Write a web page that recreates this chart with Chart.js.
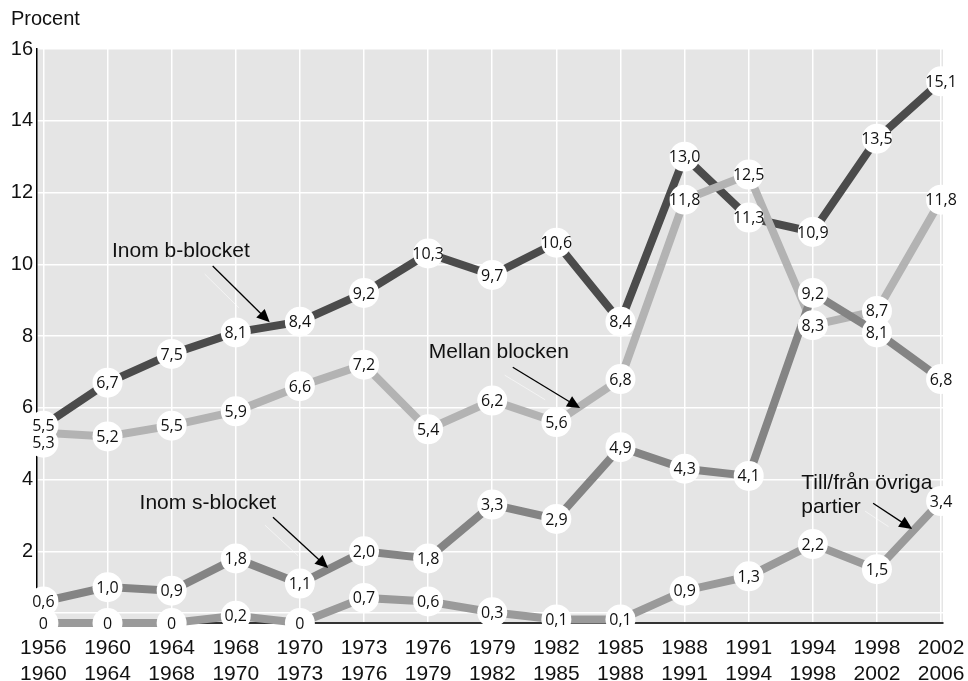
<!DOCTYPE html>
<html>
<head>
<meta charset="utf-8">
<script src="https://cdn.jsdelivr.net/npm/chart.js@4"></script>
<style>
  html, body { margin: 0; padding: 0; background: #fff; }
  #wrap { position: relative; width: 968px; height: 681px; }
  #title { position: absolute; left: 11px; top: 7px; font: 20px "Liberation Sans", Arial, sans-serif; color: #111; }
</style>
</head>
<body>
<div id="wrap">
  <div id="title">Procent</div>
  <canvas id="chart" width="968" height="681"></canvas>
</div>
<script>
// valperioder
const periodFrom = ['1956', '1960', '1964', '1968', '1970', '1973', '1976', '1979', '1982', '1985', '1988', '1991', '1994', '1998', '2002'];
const periodTo   = ['1960', '1964', '1968', '1970', '1973', '1976', '1979', '1982', '1985', '1988', '1991', '1994', '1998', '2002', '2006'];

// andel väljare som bytt parti (procent)
const inomBBlocket   = [5.5, 6.7, 7.5, 8.1, 8.4, 9.2, 10.3, 9.7, 10.6, 8.4, 13.0, 11.3, 10.9, 13.5, 15.1];
const mellanBlocken  = [5.3, 5.2, 5.5, 5.9, 6.6, 7.2, 5.4, 6.2, 5.6, 6.8, 11.8, 12.5, 8.3, 8.7, 11.8];
const inomSBlocket   = [0.6, 1.0, 0.9, 1.8, 1.1, 2.0, 1.8, 3.3, 2.9, 4.9, 4.3, 4.1, 9.2, 8.1, 6.8];
const ovrigaPartier  = [0, 0, 0, 0.2, 0, 0.7, 0.6, 0.3, 0.1, 0.1, 0.9, 1.3, 2.2, 1.5, 3.4];

const yTicks = [2, 4, 6, 8, 10, 12, 14, 16];

// texter med pilar (x = periodindex, y = procent)
const notes = [
    { text: ['Inom b-blocket'], x: 1.07, y: 10.35, from: [2.64, 9.95], to: [3.53, 8.38] },
    { text: ['Mellan blocken'], x: 6.01, y: 7.55, from: [7.32, 7.13], to: [8.37, 5.99] },
    { text: ['Inom s-blocket'], x: 1.50, y: 3.34, from: [3.58, 2.95], to: [4.44, 1.53] },
    { text: ['Till/från övriga', 'partier'], x: 11.82, y: 3.90, from: [12.94, 3.34], to: [13.55, 2.62] }
];

function toPoints(arr) {
    return arr.map(function(v, i) { return { x: i, y: v }; });
}

function fmt(v) {
    return v === 0 ? '0' : v.toFixed(1).replace('.', ',');
}

const bgPlugin = {
    id: 'bg',
    beforeDraw: function(chart) {
        const a = chart.chartArea;
        const ctx = chart.ctx;
        ctx.save();
        ctx.fillStyle = '#e5e5e5';
        ctx.fillRect(a.left, a.top, a.right - a.left, a.bottom - a.top);
        ctx.restore();
    }
};

const labelPlugin = {
    id: 'labels',
    afterDatasetsDraw: function(chart) {
        const ctx = chart.ctx;
        const xs = chart.scales.x;
        const ys = chart.scales.y;
        // annotations with arrows
        ctx.save();
        notes.forEach(function(n) {
            ctx.font = '21px "Liberation Sans", Arial, sans-serif';
            ctx.fillStyle = '#111';
            ctx.textAlign = 'left';
            ctx.textBaseline = 'middle';
            n.text.forEach(function(t, k) {
                ctx.fillText(t, xs.getPixelForValue(n.x), ys.getPixelForValue(n.y) + k * 24);
            });
            const x1 = xs.getPixelForValue(n.from[0]), y1 = ys.getPixelForValue(n.from[1]);
            const x2 = xs.getPixelForValue(n.to[0]), y2 = ys.getPixelForValue(n.to[1]);
            const ang = Math.atan2(y2 - y1, x2 - x1);
            // faint white shadow
            ctx.strokeStyle = 'rgba(255,255,255,0.55)';
            ctx.lineWidth = 1;
            ctx.beginPath();
            ctx.moveTo(x1 - 8, y1 + 8);
            ctx.lineTo(x1 - 8 + (x2 - x1) * 0.6, y1 + 8 + (y2 - y1) * 0.6);
            ctx.stroke();
            ctx.strokeStyle = '#000';
            ctx.lineWidth = 1.3;
            ctx.beginPath();
            ctx.moveTo(x1, y1);
            ctx.lineTo(x2 - Math.cos(ang) * 8, y2 - Math.sin(ang) * 8);
            ctx.stroke();
            ctx.fillStyle = '#000';
            ctx.beginPath();
            ctx.moveTo(x2, y2);
            ctx.lineTo(x2 - Math.cos(ang) * 13 + Math.sin(ang) * 6, y2 - Math.sin(ang) * 13 - Math.cos(ang) * 6);
            ctx.lineTo(x2 - Math.cos(ang) * 13 - Math.sin(ang) * 6, y2 - Math.sin(ang) * 13 + Math.cos(ang) * 6);
            ctx.closePath();
            ctx.fill();
        });
        // white circles with values
        const cols = {};
        chart.data.datasets.forEach(function(ds, di) {
            const meta = chart.getDatasetMeta(di);
            meta.data.forEach(function(pt, i) {
                (cols[i] = cols[i] || []).push({ x: pt.x, y: pt.y, t: fmt(ds.data[i].y) });
            });
        });
        ctx.font = '16px "Open Sans", "Noto Sans", sans-serif';
        ctx.textAlign = 'center';
        ctx.textBaseline = 'middle';
        Object.keys(cols).forEach(function(k) {
            const c = cols[k].sort(function(a, b) { return a.y - b.y; });
            for (let j = 1; j < c.length; j++) {
                if (c[j].y - c[j - 1].y < 17) c[j].y = c[j - 1].y + 17;
            }
            c.forEach(function(p) {
                ctx.fillStyle = '#fff';
                ctx.beginPath();
                ctx.arc(p.x, p.y, 15, 0, Math.PI * 2);
                ctx.fill();
            });
            c.forEach(function(p) {
                ctx.fillStyle = '#111';
                ctx.fillText(p.t, p.x, p.y + 1);
            });
        });
        ctx.restore();
    }
};

function lineSet(label, arr, color, order) {
    return {
        label: label,
        data: toPoints(arr),
        borderColor: color,
        backgroundColor: color,
        borderWidth: 8,
        pointRadius: 0,
        tension: 0,
        clip: false,
        order: order
    };
}

new Chart(document.getElementById('chart'), {
    type: 'line',
    data: {
        datasets: [
            lineSet('Inom b-blocket', inomBBlocket, '#4b4b4b', 4),
            lineSet('Mellan blocken', mellanBlocken, '#b3b3b3', 3),
            lineSet('Till/från övriga partier', ovrigaPartier, '#9a9a9a', 2),
            lineSet('Inom s-blocket', inomSBlocket, '#848484', 1)
        ]
    },
    options: {
        responsive: false,
        animation: false,
        layout: { padding: { top: 49, right: 25, left: 0, bottom: 0 } },
        plugins: {
            legend: { display: false },
            tooltip: { enabled: false }
        },
        scales: {
            x: {
                type: 'linear',
                min: -0.1,
                max: 14.03,
                afterBuildTicks: function(axis) {
                    axis.ticks = periodFrom.map(function(_, i) { return { value: i }; });
                },
                afterFit: function(axis) {
                    axis.height = 58;
                    axis.paddingLeft = 0;
                    axis.paddingRight = 0;
                },
                ticks: {
                    autoSkip: false,
                    maxRotation: 0,
                    padding: 13,
                    color: '#111',
                    font: { family: '"Liberation Sans", Arial, sans-serif', size: 21, lineHeight: 1.2 },
                    callback: function(v) { return [periodFrom[v], periodTo[v]]; }
                },
                grid: { color: '#ffffff', lineWidth: 1.5, drawTicks: false },
                border: { color: '#333', width: 2 }
            },
            y: {
                min: 0,
                max: 16,
                afterBuildTicks: function(axis) {
                    axis.ticks = [0, 0.28].concat(yTicks).map(function(v) { return { value: v }; });
                },
                afterFit: function(axis) { axis.width = 37; },
                ticks: {
                    padding: 4,
                    color: '#111',
                    font: { family: '"Liberation Sans", Arial, sans-serif', size: 20 },
                    callback: function(v) { return v < 2 ? '' : String(v); }
                },
                grid: { color: '#ffffff', lineWidth: 1.5, drawTicks: false },
                border: { color: '#000', width: 1.5 }
            }
        }
    },
    plugins: [bgPlugin, labelPlugin]
});
</script>
</body>
</html>
